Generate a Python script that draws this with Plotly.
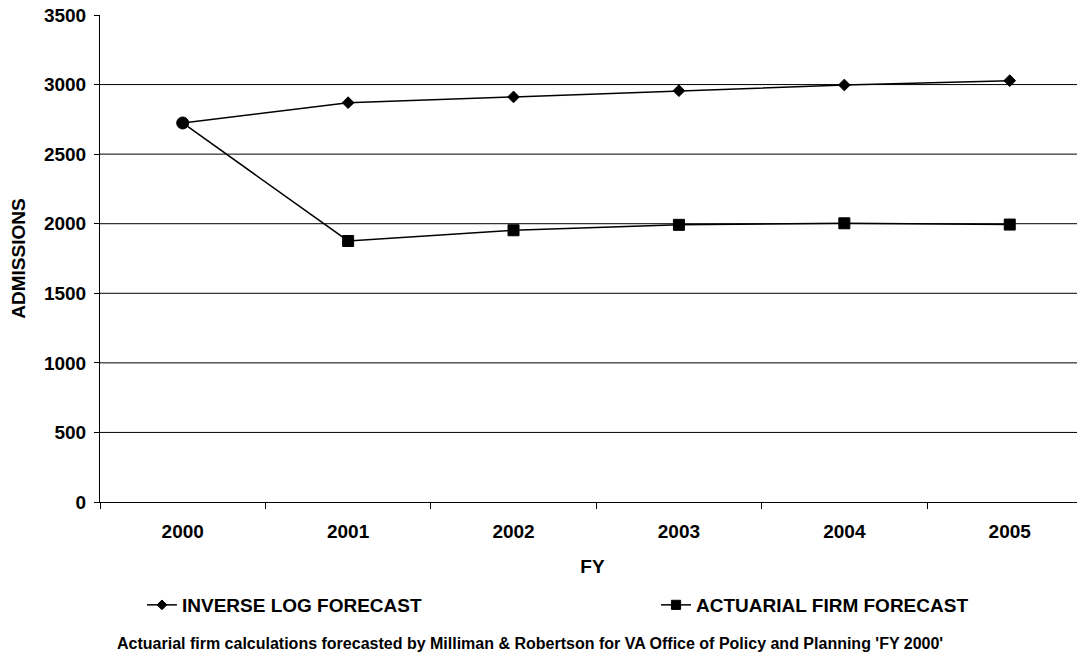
import plotly.graph_objects as go

# Admissions forecasts by fiscal year
years = ["2000", "2001", "2002", "2003", "2004", "2005"]
inverse_log = [2724, 2870, 2911, 2956, 2997, 3028]
actuarial = [2724, 1876, 1953, 1992, 2003, 1994]
grid_values = [500, 1000, 1500, 2000, 2500, 3000]

FONT = "Liberation Sans, Arial, sans-serif"
edge = dict(color="black", width=1)

fig = go.Figure()

# first point is shared, drawn as a circle below, so hide its own marker
fig.add_trace(go.Scatter(
    x=years, y=inverse_log, name="INVERSE LOG FORECAST",
    mode="lines+markers", legend="legend",
    line=dict(color="black", width=1.5),
    marker=dict(symbol="diamond", size=[0] + [9] * 5, color="black",
                opacity=1, line=edge),
))
fig.add_trace(go.Scatter(
    x=years, y=actuarial, name="ACTUARIAL FIRM FORECAST",
    mode="lines+markers", legend="legend2",
    line=dict(color="black", width=1.5),
    marker=dict(symbol="square", size=[0] + [11] * 5, color="black",
                opacity=1, line=edge),
))
fig.add_trace(go.Scatter(
    x=years[:1], y=inverse_log[:1], mode="markers", showlegend=False,
    marker=dict(symbol="circle", size=12, color="black", line=edge),
))

for v in grid_values:
    fig.add_hline(y=v, line=dict(color="black", width=1), layer="below")

# the page body adds an 8px offset, so the figure is 8px smaller
legend_font = dict(size=19, family=FONT, weight="bold")
fig.update_layout(
    width=1077, height=648,
    margin=dict(l=92, r=0, t=7, b=154),
    plot_bgcolor="white", paper_bgcolor="white",
    font=dict(family=FONT, color="black", size=19),
    showlegend=True,
    legend=dict(orientation="h", x=0.0426, y=-0.2115,
                xanchor="left", yanchor="middle", font=legend_font),
    legend2=dict(orientation="h", x=0.5645, y=-0.2115,
                 xanchor="left", yanchor="middle", font=legend_font),
    annotations=[dict(
        text="<b>Actuarial firm calculations forecasted by Milliman & Robertson for VA Office of Policy and Planning 'FY 2000'</b>",
        xref="paper", yref="paper", x=0.437, y=-0.29, yanchor="middle",
        showarrow=False, font=dict(size=16, family=FONT),
    )],
)

fig.update_xaxes(
    type="category", range=[-0.5, 5.455], automargin=False,
    tickson="boundaries", ticks="outside", ticklen=6, tickcolor="black",
    ticklabelstandoff=12, ticklabeloverflow="allow",
    showline=True, linecolor="black", linewidth=1,
    showgrid=False,
    tickfont=dict(size=19, family=FONT, weight="bold"),
    title=dict(text="<b>FY</b>", font=dict(size=19, family=FONT), standoff=18),
)
fig.update_yaxes(
    range=[0, 3500], dtick=500, automargin=False,
    ticks="outside", ticklen=5, tickcolor="black", ticklabelstandoff=4,
    ticklabeloverflow="allow",
    showline=True, linecolor="black", linewidth=1,
    showgrid=False, zeroline=False,
    tickfont=dict(size=19, family=FONT, weight="bold"),
    title=dict(text="<b>ADMISSIONS</b>", font=dict(size=19, family=FONT), standoff=13),
)

fig.write_html("out.html")
